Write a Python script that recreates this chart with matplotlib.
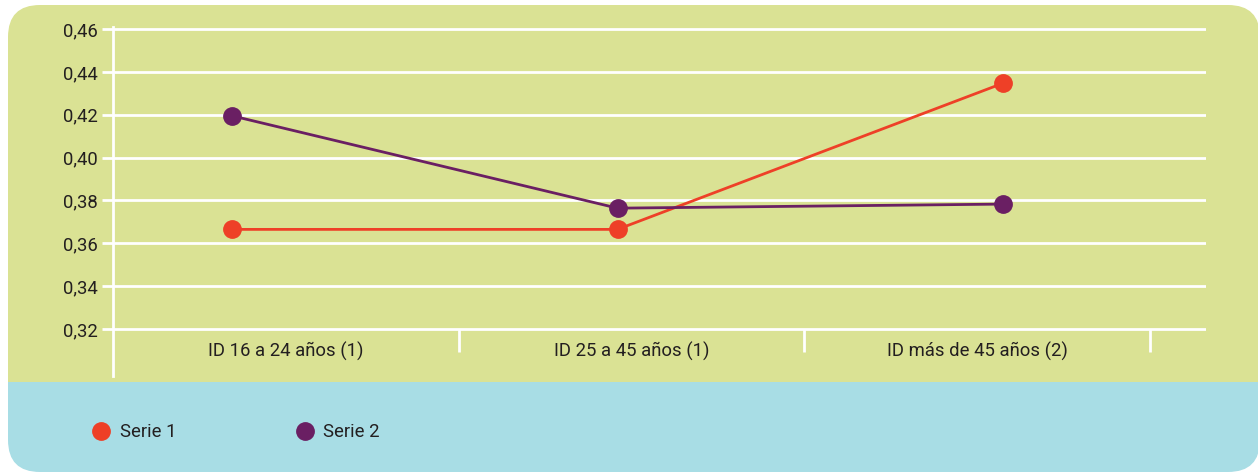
import matplotlib
matplotlib.use("Agg")
import matplotlib.pyplot as plt
from matplotlib.patches import FancyBboxPatch, Rectangle
from matplotlib.lines import Line2D

# ---- data ----
categories = ["ID 16 a 24 años (1)", "ID 25 a 45 años (1)", "ID más de 45 años (2)"]
serie1 = [0.3665, 0.3665, 0.4347]
serie2 = [0.4195, 0.3764, 0.3783]
series_names = ["Serie 1", "Serie 2"]
yticks = [0.32, 0.34, 0.36, 0.38, 0.40, 0.42, 0.44, 0.46]
ytick_labels = ["0,32", "0,34", "0,36", "0,38", "0,40", "0,42", "0,44", "0,46"]

# ---- style ----
GREEN = "#DAE294"
BLUE = "#A8DDE5"
RED = "#EE4027"
PURPLE = "#6A1F63"
TEXT = "#231F20"
FS = 13.3
plt.rcParams["font.family"] = ["Roboto", "DejaVu Sans"]

W, H = 1258, 473
fig = plt.figure(figsize=(W / 100, H / 100), dpi=100)

# background panel drawn in pixel space
bg = fig.add_axes([0, 0, 1, 1])
bg.set_xlim(0, W)
bg.set_ylim(H, 0)
bg.axis("off")
panel = FancyBboxPatch((8, 5), W - 8 + 2, 467, boxstyle="round,pad=0,rounding_size=32",
                       facecolor="none", edgecolor="none")
bg.add_patch(panel)
top = Rectangle((0, 0), W, 382, facecolor=GREEN, edgecolor="none")
bottom = Rectangle((0, 382), W, H - 382, facecolor=BLUE, edgecolor="none")
for p in (top, bottom):
    bg.add_patch(p)
    p.set_clip_path(panel)


def px_box(x0, y0, x1, y1):
    return [x0 / W, 1 - y1 / H, (x1 - x0) / W, (y1 - y0) / H]


# main axes: grid, y ticks, category separators
ax_left, ax_right, ax_top, ax_bot = 113, 1206, 27, 376
ax = fig.add_axes(px_box(ax_left, ax_top, ax_right, ax_bot))
ax.patch.set_alpha(0)
per_px = 0.02 / 42.9
y_lo = 0.32 - (ax_bot - 329) * per_px
y_hi = 0.46 + (29 - ax_top) * per_px
ax.set_ylim(y_lo, y_hi)
cat_px = 345.7
ax.set_xlim(0, (ax_right - ax_left) / cat_px)

for s in ("top", "right", "bottom"):
    ax.spines[s].set_visible(False)
ax.spines["left"].set_color("white")
ax.spines["left"].set_linewidth(2)

ax.set_yticks(yticks)
ax.set_yticklabels(ytick_labels)
ax.tick_params(axis="y", colors="white", length=8, width=2, pad=3,
               labelcolor=TEXT, labelsize=FS)
for yv in yticks:
    ax.axhline(yv, color="white", lw=2, zorder=1)

# category labels below the baseline
ax.set_xticks([])
for i, c in enumerate(categories):
    ax.text(i + 0.5, 0.32 - 22 * per_px, c, ha="center", va="center",
            color=TEXT, fontsize=FS)
sep_bottom = 0.32 - 23 * per_px
ax.vlines(range(1, len(categories) + 1), sep_bottom, 0.32, color="white", lw=2)

# lines axes
lx = fig.add_axes(px_box(ax_left, ax_top, ax_right, ax_bot), sharey=ax)
lx.axis("off")
xi = list(range(len(categories)))
span = (1003 - 232) / 2
x0 = -(232 - ax_left) / span
lx.set_xlim(x0, x0 + (ax_right - ax_left) / span)
lx.plot(xi, serie1, color=RED, lw=2, marker="o", ms=12.5, zorder=3)
lx.plot(xi, serie2, color=PURPLE, lw=2, marker="o", ms=12.5, zorder=3)

# legend
handles = [Line2D([], [], ls="none", marker="o", ms=12.5, color=RED),
           Line2D([], [], ls="none", marker="o", ms=12.5, color=PURPLE)]
fig.legend(handles, series_names, loc="center left",
           bbox_to_anchor=(94 / W, 1 - 432 / H), ncol=2, frameon=False,
           handlelength=0.8, handletextpad=0.6, columnspacing=6.55,
           fontsize=FS, labelcolor=TEXT, borderpad=0, borderaxespad=0)

fig.savefig("out.png", dpi=100)
